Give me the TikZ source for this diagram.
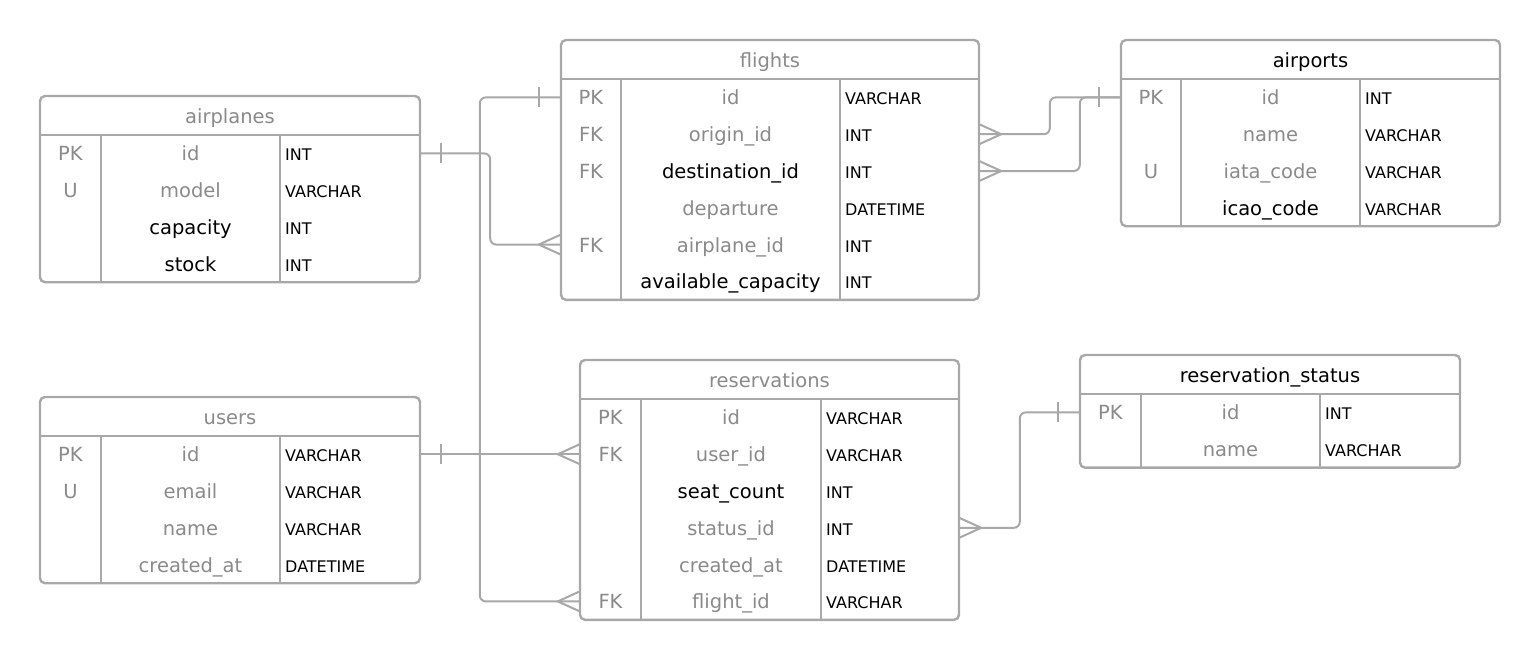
\documentclass[tikz,border=0pt]{standalone}
\usepackage{fontspec}
\setmainfont{DejaVu Sans}
\definecolor{ink}{HTML}{8A8A8A}
\definecolor{rule}{HTML}{A8A8A8}

\tikzset{
  tabframe/.style={draw=rule, line width=2.4pt},
  relation/.style={draw=rule, line width=2pt, rounded corners=6},
  rowbox/.style={inner sep=0, minimum height=36.8pt},
  tabtitle/.style={inner sep=0, text height=15pt, text depth=0pt, text=ink, font=\fontsize{19.5}{22}\selectfont},
  keytext/.style={tabtitle},
  fieldtext/.style={tabtitle},
  typetext/.style={anchor=west, inner sep=0, text height=15pt, text depth=0pt, font=\fontsize{16}{18}\selectfont},
  barmark/.pic={\draw[relation] (0,-10) -- (0,10);},
  crowfoot/.pic={\draw[relation, sharp corners] (0,-10) -- (-22,0) -- (0,10);}
}

% name, title, left, top, first sep, second sep, right, rows
\newcommand{\erdtable}[8]{%
  \pgfmathsetmacro\erdhdr{#4+39}
  \foreach \kname/\fname/\tname/\tcol [count=\i] in {#8}{
    \pgfmathsetmacro\erdy{\erdhdr+36.8*\i-18.4}
    \node[rowbox, minimum width={(#7-#3)*1pt}] (#1-\i) at ({(#3+#7)/2},\erdy) {};
    \node[keytext] (#1-k\i) at ({(#3+#5)/2},\erdy) {\kname};
    \node[fieldtext, text=\tcol] (#1-f\i) at ({(#5+#6)/2},\erdy) {\fname};
    \node[typetext] (#1-t\i) at (#6+5,\erdy) {\tname};
    \xdef\erdbot{\erdhdr+36.8*\i}
  }
  \draw[tabframe, rounded corners=5] (#3,#4) rectangle (#7,\erdbot);
  \draw[tabframe] (#3,\erdhdr) -- (#7,\erdhdr) (#5,\erdhdr) -- (#5,\erdbot) (#6,\erdhdr) -- (#6,\erdbot);
  \node[tabtitle] (#1) at ({(#3+#7)/2},#4+19.5) {#2};
}

\begin{document}
\begin{tikzpicture}[x=1pt, y=-1pt]
\path[use as bounding box, fill=white] (0,0) rectangle (1540,661);

\erdtable{airplanes}{airplanes}{40}{96}{101}{280}{420}
  {PK/id/INT/ink, U/model/VARCHAR/ink, /capacity/INT/black, /stock/INT/black}
\erdtable{flights}{flights}{561}{40}{621}{840}{979}
  {PK/id/VARCHAR/ink, FK/origin\_id/INT/ink, FK/destination\_id/INT/black,
   /departure/DATETIME/ink, FK/airplane\_id/INT/ink, /available\_capacity/INT/black}
\erdtable{airports}{\color{black}airports}{1121}{40}{1181}{1360}{1500}
  {PK/id/INT/ink, /name/VARCHAR/ink, U/iata\_code/VARCHAR/ink, /icao\_code/VARCHAR/black}
\erdtable{users}{users}{40}{397}{101}{280}{420}
  {PK/id/VARCHAR/ink, U/email/VARCHAR/ink, /name/VARCHAR/ink, /created\_at/DATETIME/ink}
\erdtable{reservations}{reservations}{580}{360}{641}{821}{959}
  {PK/id/VARCHAR/ink, FK/user\_id/VARCHAR/ink, /seat\_count/INT/black,
   /status\_id/INT/ink, /created\_at/DATETIME/ink, FK/flight\_id/VARCHAR/ink}
\erdtable{resstatus}{\color{black}reservation\_status}{1080}{355}{1141}{1320}{1460}
  {PK/id/INT/ink, /name/VARCHAR/ink}

% relations
\draw[relation] (airplanes-1.east) -- ++(70,0) |- (flights-5.west);
\pic at ([xshift=21pt]airplanes-1.east) {barmark};
\pic at (flights-5.west) {crowfoot};

\draw[relation] (flights-1.west) -- ++(-81,0) |- (reservations-6.west);
\pic at ([xshift=-22pt]flights-1.west) {barmark};
\pic at (reservations-6.west) {crowfoot};

\draw[relation] (users-1.east) -- (users-1.east -| reservations-2.west);
\pic at ([xshift=21pt]users-1.east) {barmark};
\pic at (reservations-2.west) {crowfoot};

\draw[relation] (airports-1.west) -- ++(-71,0) |- (flights-2.east);
\draw[relation] (airports-1.west) -- ++(-41,0) |- (flights-3.east);
\pic at ([xshift=-22pt]airports-1.west) {barmark};
\pic[xscale=-1] at (flights-2.east) {crowfoot};
\pic[xscale=-1] at (flights-3.east) {crowfoot};

\draw[relation] (resstatus-1.west) -- ++(-60,0) |- (reservations-4.east);
\pic at ([xshift=-22pt]resstatus-1.west) {barmark};
\pic[xscale=-1] at (reservations-4.east) {crowfoot};
\end{tikzpicture}
\end{document}
